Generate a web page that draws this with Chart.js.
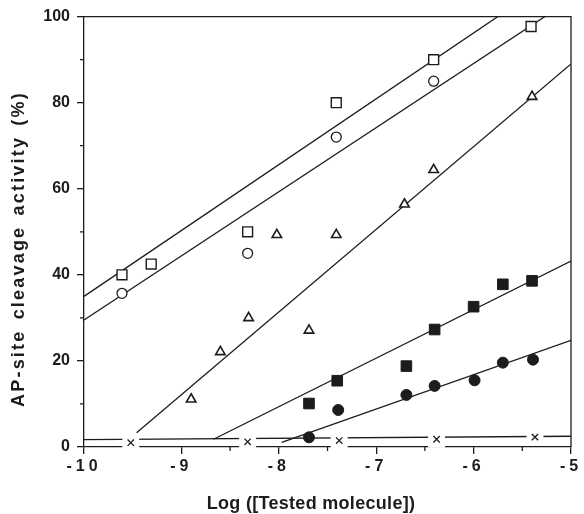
<!DOCTYPE html>
<html>
<head>
<meta charset="utf-8">
<script src="https://cdn.jsdelivr.net/npm/chart.js@4.4.1/dist/chart.umd.min.js"></script>
<style>
  html, body { margin: 0; padding: 0; background: #fff; }
  #wrap { width: 584px; height: 514px; }
</style>
</head>
<body>
<div id="wrap"><canvas id="c"></canvas></div>
<script>
"use strict";

// Points: log concentration vs cleavage (%)
const openSquareX = [-9.61, -9.31, -8.32, -7.41, -6.41, -5.41];
const openSquareY = [40, 42.5, 50, 80, 90, 97.7];
const openCircleX = [-9.61, -8.32, -7.41, -6.41];
const openCircleY = [35.7, 45, 72, 85];
const triangleX = [-8.90, -8.60, -8.31, -8.02, -7.69, -7.41, -6.71, -6.41, -5.40];
const triangleY = [11.1, 22.1, 30, 49.3, 27.1, 49.3, 56.4, 64.4, 81.4];
const filledSquareX = [-7.69, -7.40, -6.69, -6.40, -6.00, -5.70, -5.40];
const filledSquareY = [10.1, 15.4, 18.8, 27.3, 32.6, 37.8, 38.6];
const filledCircleX = [-7.69, -7.39, -6.69, -6.40, -5.99, -5.70, -5.39];
const filledCircleY = [2.25, 8.6, 12.1, 14.2, 15.5, 19.6, 20.3];
const crossX = [-9.52, -8.32, -7.38, -6.38, -5.37];
const crossY = [1.0, 1.2, 1.5, 1.8, 2.3];

// fitted lines: start and end of each line
const fitStartX = [-10, -10, -9.46, -8.67, -7.97, -10];
const fitStartY = [35, 29.5, 3.3, 1.8, 1.1, 1.7];
const fitEndX = [-5, -5, -5, -5, -5, -5];
const fitEndY = [111.5, 104, 89, 43.2, 24.8, 2.5];

const xTicks = [-10, -9, -8, -7, -6, -5];
const yTicks = [0, 20, 40, 60, 80, 100];
const minorXTicks = [-9.5, -8.5, -7.5, -6.5, -5.5];
const minorYTicks = [10, 30, 50, 70, 90];

const xTitle = "Log ([Tested molecule])";
const yTitle = "AP-site cleavage activity (%)";

const INK = "#1c1c1c";
const FAMILY = "'Liberation Sans', Arial, sans-serif";
const pts = (xs, ys) => xs.map((x, i) => ({ x, y: ys[i] }));

const datasets = [];
fitStartX.forEach((x0, i) => {
    datasets.push({
        type: "line",
        data: [{ x: x0, y: fitStartY[i] }, { x: fitEndX[i], y: fitEndY[i] }],
        borderColor: INK, borderWidth: 1.3, pointRadius: 0, fill: false, order: 5,
    });
});
// white gaps where the crosses interrupt the baseline
datasets.push({
    data: pts(crossX, crossY), pointStyle: "rect", pointRadius: 12,
    backgroundColor: "#fff", borderWidth: 0, order: 3, clip: false,
});
const marker = (xs, ys, style, r, fill, bw) => ({
    data: pts(xs, ys), pointStyle: style, pointRadius: r,
    backgroundColor: fill, borderColor: INK, borderWidth: bw, order: 1, clip: false,
});
datasets.push(marker(openSquareX, openSquareY, "rect", 7, "#fff", 1.4));
datasets.push(marker(openCircleX, openCircleY, "circle", 5, "#fff", 1.3));
datasets.push(marker(triangleX, triangleY, "triangle", 5.5, "#fff", 1.6));
datasets.push(marker(filledSquareX, filledSquareY, "rect", 7.5, INK, 1));
datasets.push(marker(filledCircleX, filledCircleY, "circle", 5.5, INK, 1));
datasets.push(marker(crossX, crossY, "crossRot", 4.5, INK, 1.3));

const frame = {
    id: "frame",
    beforeDatasetsDraw(chart) {
        const { ctx, chartArea: a, scales } = chart;
        ctx.save();
        ctx.strokeStyle = INK;
        ctx.lineWidth = 1.3;
        ctx.beginPath();
        ctx.moveTo(a.left, a.top); ctx.lineTo(a.right, a.top); ctx.lineTo(a.right, a.bottom);
        minorXTicks.forEach((v) => {
            const px = scales.x.getPixelForValue(v);
            ctx.moveTo(px, a.bottom); ctx.lineTo(px, a.bottom + 4);
        });
        minorYTicks.forEach((v) => {
            const py = scales.y.getPixelForValue(v);
            ctx.moveTo(a.left, py); ctx.lineTo(a.left - 4, py);
        });
        ctx.stroke();
        ctx.restore();
    },
    // x tick labels are drawn after this (ticks z: 1) with the wide spacing of the original
    afterDatasetsDraw(chart) { chart.ctx.letterSpacing = "4px"; },
    afterDraw(chart) {
        const ctx = chart.ctx;
        ctx.letterSpacing = "0px";
        ctx.save();
        ctx.fillStyle = INK;
        ctx.textAlign = "center";
        ctx.textBaseline = "middle";
        ctx.font = "bold 18px " + FAMILY;
        ctx.letterSpacing = "0.3px";
        ctx.fillText(xTitle, 311, 504);
        ctx.translate(19, 249);
        ctx.rotate(-Math.PI / 2);
        ctx.letterSpacing = "2.2px";
        ctx.wordSpacing = "3px";
        ctx.fillText(yTitle, 0, 0);
        ctx.restore();
        ctx.letterSpacing = "0px";
        ctx.wordSpacing = "0px";
    },
};

const tickFont = { family: FAMILY, size: 16, weight: "bold" };

new Chart(document.getElementById("c"), {
    type: "scatter",
    data: { datasets },
    plugins: [frame],
    options: {
        responsive: true, maintainAspectRatio: false, animation: false,
        layout: { padding: { left: 6, right: 13, top: 16, bottom: 0 } },
        plugins: { legend: { display: false }, tooltip: { enabled: false } },
        scales: {
            x: {
                type: "linear", min: -10, max: -5,
                afterBuildTicks: (s) => { s.ticks = xTicks.map((v) => ({ value: v })); },
                afterFit: (s) => { s.height = 67; },
                ticks: { color: INK, font: tickFont, padding: 3, z: 1, callback: (v) => String(v) },
                grid: { drawOnChartArea: false, tickLength: 7, color: INK, lineWidth: 1.3 },
                border: { color: INK, width: 1.3 },
            },
            y: {
                type: "linear", min: 0, max: 100,
                afterBuildTicks: (s) => { s.ticks = yTicks.map((v) => ({ value: v })); },
                afterFit: (s) => { s.width = 78; },
                ticks: { color: INK, font: tickFont, padding: 7 },
                grid: { drawOnChartArea: false, tickLength: 7, color: INK, lineWidth: 1.3 },
                border: { color: INK, width: 1.3 },
            },
        },
    },
});
</script>
</body>
</html>
